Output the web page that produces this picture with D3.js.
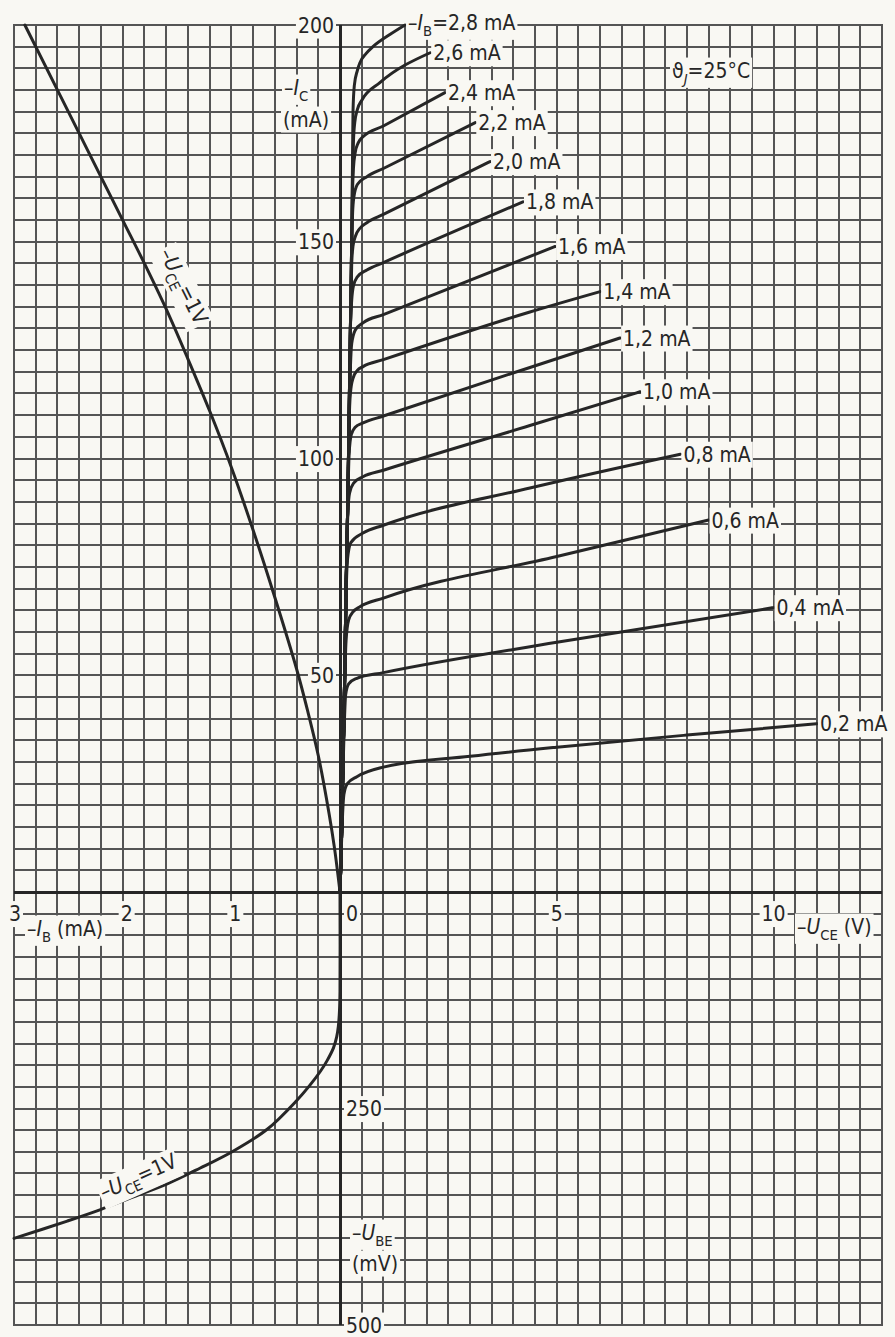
<!DOCTYPE html>
<html>
<head>
<meta charset="utf-8">
<script src="https://cdn.jsdelivr.net/npm/d3@7"></script>
<style>
  html, body { margin: 0; padding: 0; background: #f9f8f3; }
  svg { display: block; }
  text { font-family: "DejaVu Sans Condensed", "DejaVu Sans", sans-serif; font-stretch: condensed; fill: #262626; }
</style>
</head>
<body>
<svg id="chart" width="895" height="1337"></svg>
<script>
// ---- Output characteristics: -I_C (mA) over -U_CE (V), one curve per base current ----
const ibSteps = [0.2, 0.4, 0.6, 0.8, 1.0, 1.2, 1.4, 1.6, 1.8, 2.0, 2.2, 2.4, 2.6, 2.8];

const ic_ib02 = [[0,0],[0.03,10],[0.06,18],[0.09,22.5],[0.17,25],[0.39,26.6],[1,28.8],[3,31.3],[5,33.4],[8,36.2],[11.0,38.8]];
const ic_ib04 = [[0,0],[0.03,10],[0.06,25],[0.1,39],[0.13,45.5],[0.2,48],[0.39,49.3],[1,50.6],[5,57.6],[10,65.6]];
const ic_ib06 = [[0,0],[0.03,10],[0.06,25],[0.1,45],[0.14,58],[0.2,62.8],[0.3,64.6],[0.46,65.8],[1,67.8],[5,77.4],[8.5,85.8]];
const ic_ib08 = [[0,0],[0.03,10],[0.06,25],[0.1,45],[0.14,68],[0.17,76.5],[0.25,80.6],[0.53,82.8],[1,84.6],[4.38,93.2],[7.85,101]];
const ic_ib10 = [[0,0],[0.03,10],[0.06,25],[0.1,45],[0.14,70],[0.18,87],[0.22,92],[0.32,94.4],[0.53,95.8],[1,97.3],[4.38,107.6],[6.92,115.4]];
const ic_ib12 = [[0,0],[0.03,10],[0.06,25],[0.1,45],[0.14,70],[0.18,90],[0.21,101],[0.26,105.5],[0.35,107.2],[0.53,108.2],[1,109.8],[4.38,121],[6.46,127.8]];
const ic_ib14 = [[0,0],[0.03,10],[0.06,25],[0.1,45],[0.14,70],[0.18,90],[0.21,108],[0.24,115],[0.3,118.5],[0.4,120.3],[0.53,121.2],[1,122.8],[4.38,133.8],[6,138.5]];
const ic_ib16 = [[0,0],[0.03,10],[0.06,25],[0.1,45],[0.14,70],[0.18,90],[0.21,110],[0.24,121],[0.27,126.5],[0.35,129.6],[0.53,131.3],[1,133.2],[4.96,148.9]];
const ic_ib18 = [[0,0],[0.03,10],[0.06,25],[0.1,45],[0.14,70],[0.18,90],[0.21,110],[0.24,130],[0.27,136.5],[0.31,139.8],[0.4,141.9],[0.62,143.5],[1,145.2],[4.22,159.2]];
const ic_ib20 = [[0,0],[0.03,10],[0.06,25],[0.1,45],[0.14,70],[0.18,90],[0.21,110],[0.24,130],[0.27,145],[0.3,149],[0.36,151.4],[0.45,153],[0.62,154.4],[1,156.3],[3.46,168.5]];
const ic_ib22 = [[0,0],[0.03,10],[0.06,25],[0.1,45],[0.14,70],[0.18,90],[0.21,110],[0.24,130],[0.27,150],[0.29,156.5],[0.32,160.3],[0.4,163.2],[0.62,165],[1,166.9],[3.12,177.5]];
const ic_ib24 = [[0,0],[0.03,10],[0.06,25],[0.1,45],[0.14,70],[0.18,90],[0.21,110],[0.24,130],[0.27,150],[0.29,162],[0.31,167],[0.35,170.5],[0.42,172.8],[0.53,174.2],[1,176.7],[2.42,184.4]];
const ic_ib26 = [[0,0],[0.03,10],[0.06,25],[0.1,45],[0.14,70],[0.18,90],[0.21,110],[0.24,130],[0.27,150],[0.29,165],[0.31,173],[0.34,177.5],[0.4,180.5],[0.5,182.6],[0.92,186.7],[2.08,193.6]];
const ic_ib28 = [[0,0],[0.03,10],[0.06,25],[0.1,45],[0.14,70],[0.18,90],[0.21,110],[0.24,130],[0.27,150],[0.29,170],[0.3,180],[0.33,186],[0.4,189.5],[0.46,191.3],[0.6,193.4],[0.76,195],[1.15,197.8],[1.5,200]];

const outputCurves = [ic_ib02, ic_ib04, ic_ib06, ic_ib08, ic_ib10, ic_ib12, ic_ib14,
                      ic_ib16, ic_ib18, ic_ib20, ic_ib22, ic_ib24, ic_ib26, ic_ib28];

// ---- Current transfer at -U_CE = 1 V: -I_C (mA) over -I_B (mA) ----
const transferIb = [0, 0.05, 0.1, 0.2, 0.3, 0.4, 0.6, 0.8, 1.0, 1.2, 1.4, 1.6, 1.8, 2.0, 2.4, 2.9];
const transferIc = [0, 10, 18, 31.5, 42, 51.5, 68, 83.5, 98, 111, 123, 134.5, 145, 155, 175, 200];

// ---- Input characteristic at -U_CE = 1 V: -U_BE (mV) over -I_B (mA) ----
const inputIb  = [0, 0, 0.005, 0.015, 0.03, 0.06, 0.12, 0.18, 0.28, 0.40, 0.67, 0.98, 1.29, 1.59, 1.90, 2.21, 2.51, 3.0];
const inputUbe = [0, 115, 138, 155, 167, 180, 195, 207, 223.6, 241, 274, 299, 319, 337, 352, 367, 380, 400];

// ---- Axis tick labels ----
const icTicks  = [50, 100, 150, 200];
const ibTicks  = [3, 2, 1];
const uceTicks = [0, 5, 10];
const ubeTicks = [250, 500];

// ---- Scales (four quadrants sharing one origin) ----
const xU  = d3.scaleLinear().domain([0, 12.5]).range([340, 882]);
const xIB = d3.scaleLinear().domain([0, 3]).range([340, 14]);
const yIC = d3.scaleLinear().domain([0, 200]).range([892, 25]);
const yBE = d3.scaleLinear().domain([0, 500]).range([892, 1325]);

const svg = d3.select("#chart");
const PAPER = "#f9f8f3", INK = "#262626", GRID = "#555555";
const FS = 21;

svg.append("rect").attr("width", 895).attr("height", 1337).attr("fill", PAPER);

// ---- Grid (snapped to whole pixels so every 2px line renders evenly) ----
const grid = svg.append("g").attr("stroke", GRID).attr("stroke-width", 2);
const gridTop = Math.round(yIC(200)), gridBottom = Math.round(yBE(500));
const gridLeft = Math.round(xIB(3)), gridRight = Math.round(xU(12.5));
const vLines = d3.range(0.5, 12.5 + 1e-9, 0.5).map(v => Math.round(xU(v)))
  .concat(d3.range(0.2, 3 + 1e-9, 0.2).map(v => Math.round(xIB(v))));
const hLines = d3.range(5, 200 + 1e-9, 5).map(v => Math.round(yIC(v)))
  .concat(d3.range(25, 500 + 1e-9, 25).map(v => Math.round(yBE(v))));
grid.selectAll("line.v").data(vLines).join("line").attr("class", "v")
  .attr("x1", d => d).attr("x2", d => d).attr("y1", gridTop - 1).attr("y2", gridBottom + 1);
grid.selectAll("line.h").data(hLines).join("line").attr("class", "h")
  .attr("y1", d => d).attr("y2", d => d).attr("x1", gridLeft - 1).attr("x2", gridRight + 1);

// ---- Main axes through the origin ----
const axes = svg.append("g").attr("stroke", INK).attr("stroke-width", 3);
axes.append("line").attr("x1", xU(0) + 0.5).attr("x2", xU(0) + 0.5).attr("y1", gridTop).attr("y2", gridBottom);
axes.append("line").attr("y1", yIC(0) + 0.5).attr("y2", yIC(0) + 0.5).attr("x1", gridLeft).attr("x2", gridRight);

// ---- Curves ----
const curves = svg.append("g").attr("fill", "none").attr("stroke", INK)
  .attr("stroke-width", 3).attr("stroke-linecap", "round").attr("stroke-linejoin", "round");

const outLine = d3.line().x(d => xU(d[0])).y(d => yIC(d[1])).curve(d3.curveMonotoneX);
curves.selectAll("path.out").data(outputCurves).join("path").attr("class", "out").attr("d", outLine);

const smooth = d3.curveCatmullRom.alpha(0.5);

const transferPts = transferIb.map((b, i) => [b, transferIc[i]]);
curves.append("path")
  .attr("d", d3.line().x(d => xIB(d[0])).y(d => yIC(d[1])).curve(smooth)(transferPts));

const inputPts = inputIb.map((b, i) => [b, inputUbe[i]]);
curves.append("path")
  .attr("d", d3.line().x(d => xIB(d[0])).y(d => yBE(d[1])).curve(smooth)(inputPts));

// ---- Text helpers: rich text with italic symbols and subscripts on a paper-coloured box ----
const labels = svg.append("g");

function richText(g, parts, size) {
  const t = g.append("text").attr("font-size", size).attr("dy", "0.36em");
  let shifted = false;
  parts.forEach(p => {
    const ts = t.append("tspan").text(p.t);
    if (p.it) ts.attr("font-style", "italic");
    if (p.sub) {
      ts.attr("font-size", size * 0.7).attr("dy", shifted ? 0 : size * 0.3);
      shifted = true;
    } else if (shifted) {
      ts.attr("dy", -size * 0.3);
      shifted = false;
    }
  });
  return t;
}

function boxed(parts, x, y, anchor = "start", rotate = 0, pad = 2) {
  const g = labels.append("g").attr("transform", `translate(${x},${y}) rotate(${rotate})`);
  const t = richText(g, parts, FS).attr("text-anchor", anchor);
  const b = t.node().getBBox();
  g.insert("rect", "text")
    .attr("x", b.x - pad).attr("y", b.y - 1).attr("width", b.width + 2 * pad).attr("height", b.height + 2)
    .attr("fill", PAPER);
  return g;
}

const fmtIb = v => d3.format(".1f")(v).replace(".", ",");

// Curve labels at each curve's end point
outputCurves.forEach((pts, i) => {
  const end = pts[pts.length - 1];
  const x = xU(end[0]) + 3, y = yIC(end[1]);
  const last = i === outputCurves.length - 1;
  const parts = last
    ? [{t: "–"}, {t: "I", it: true}, {t: "B", sub: true}, {t: "=" + fmtIb(ibSteps[i]) + " mA"}]
    : [{t: fmtIb(ibSteps[i]) + " mA"}];
  boxed(parts, x, last ? y - 3 : y);
});

// Vertical axis: -I_C ticks
icTicks.forEach(v => boxed([{t: String(v)}], xU(0) - 6, yIC(v), "end"));
boxed([{t: "–"}, {t: "I", it: true}, {t: "C", sub: true}], 284, 87);
boxed([{t: "(mA)"}], 283, 119);

// Horizontal axis ticks, one grid row below the axis
const tickRow = yIC(0) + 21.5;
ibTicks.forEach(v => boxed([{t: String(v)}], xIB(v) + (v === 3 ? 1 : 4), tickRow, "middle"));
uceTicks.forEach(v => boxed([{t: String(v)}], xU(v) + (v === 0 ? 12 : 0), tickRow, "middle"));
boxed([{t: "–"}, {t: "I", it: true}, {t: "B", sub: true}, {t: " (mA)"}], 27, yIC(0) + 36);
boxed([{t: "–"}, {t: "U", it: true}, {t: "CE", sub: true}, {t: " (V)"}], 797, yIC(0) + 34);

// Lower axis: -U_BE ticks
ubeTicks.forEach(v => boxed([{t: String(v)}], xU(0) + 6, yBE(v)));
boxed([{t: "–"}, {t: "U", it: true}, {t: "BE", sub: true}], 352, 1232);
boxed([{t: "(mV)"}], 352, 1263);

// Curve names for the two -U_CE = 1 V characteristics
boxed([{t: "–"}, {t: "U", it: true}, {t: "CE", sub: true}, {t: "=1V"}], 184, 286, "middle", 63.5);
boxed([{t: "–"}, {t: "U", it: true}, {t: "CE", sub: true}, {t: "=1V"}], 138, 1176, "middle", -24);

// Junction temperature
boxed([{t: "ϑ"}, {t: "J", it: true, sub: true}, {t: "=25°C"}], 672, 70);
</script>
</body>
</html>
